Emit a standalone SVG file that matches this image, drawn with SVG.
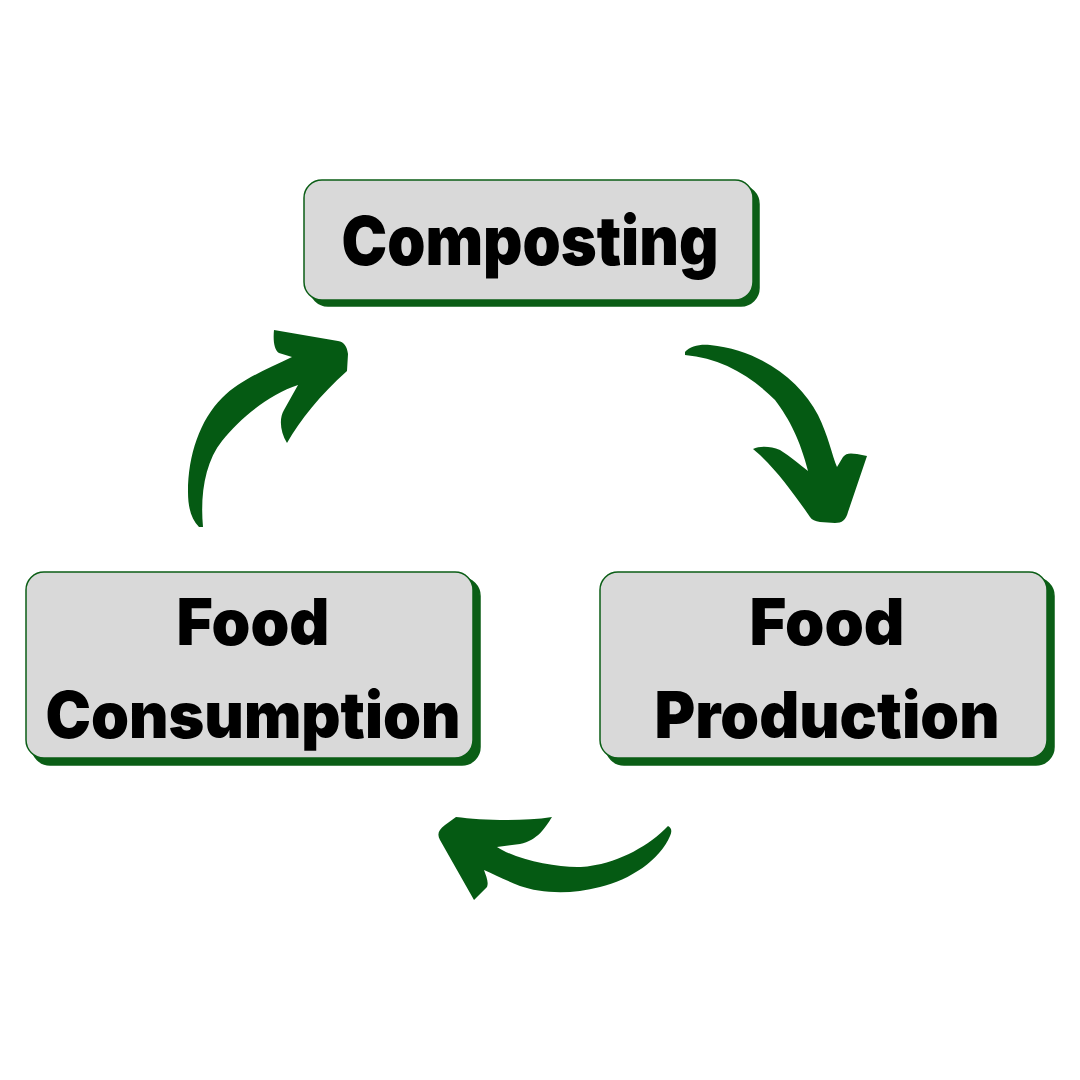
<svg xmlns="http://www.w3.org/2000/svg" width="1080" height="1080" viewBox="0 0 1080 1080">
<style>
.shadow{fill:#0b5e16;stroke:#0b5e16;stroke-width:1.5}
.box{fill:#d9d9d9;stroke:#0b5e16;stroke-width:1.5}
.lbl{font-family:Inter,"Noto Sans",sans-serif;font-weight:900;fill:#000;text-anchor:middle}
.arrow{fill:#055a13}
</style>
<rect width="1080" height="1080" fill="#fff"/>
<g id="composting">
<rect class="shadow" x="310" y="186" width="449" height="120" rx="18"/>
<rect class="box" x="304" y="180" width="449" height="120" rx="18"/>
<text class="lbl" x="530" y="265" font-size="68" textLength="377" lengthAdjust="spacingAndGlyphs">Composting</text>
</g>
<g id="food-consumption">
<rect class="shadow" x="32" y="578" width="448" height="187" rx="18"/>
<rect class="box" x="26" y="572" width="447" height="186" rx="18"/>
<text class="lbl" x="253" y="645" font-size="64" textLength="153" lengthAdjust="spacingAndGlyphs">Food</text>
<text class="lbl" x="253" y="738" font-size="64" textLength="415" lengthAdjust="spacingAndGlyphs">Consumption</text>
</g>
<g id="food-production">
<rect class="shadow" x="606" y="578" width="448" height="187" rx="18"/>
<rect class="box" x="600" y="572" width="447" height="186" rx="18"/>
<text class="lbl" x="827" y="645" font-size="64" textLength="155" lengthAdjust="spacingAndGlyphs">Food</text>
<text class="lbl" x="827" y="738" font-size="64" textLength="345" lengthAdjust="spacingAndGlyphs">Production</text>
</g>
<g id="connectors">
<path class="arrow" d="M203,527 C200,495 205,462 222,441 C240,418 270,394 298,385 L284,410 C279,418 280,432 287,443 C300,420 320,395 347,371 L348,354 C347,346 344,342 338,341 L274,330 C273,340 274,350 279,353 L292,357 C265,370 240,380 222,398 C200,420 188,455 188,492 C188,507 191,519 199,527 Z"/>
<path class="arrow" d="M685,352 C690,346 700,344 710,345 C760,350 800,380 818,415 C828,435 832,455 837,467 L843,457 C846,453 850,453 857,454 L867,456 L848,512 C846,520 842,523 835,523 L820,522 C815,521 812,520 810,517 C795,495 778,472 760,455 L753,449 C760,446 770,446 780,450 C790,456 800,465 808,471 C800,440 790,420 775,400 C750,375 720,358 685,355 Z"/>
<path class="arrow" d="M668,826 C672,828 672,832 670,836 C660,860 630,880 600,887 C570,895 540,893 520,886 C505,880 495,875 484,870 C486,876 489,882 487,887 L474,900 L440,840 C437,835 438,830 445,825 L456,817 C480,820 520,822 552,817 C545,828 538,840 520,844 L497,847 C520,862 570,870 590,866 C620,862 650,845 668,826 Z"/>
</g>
</svg>
